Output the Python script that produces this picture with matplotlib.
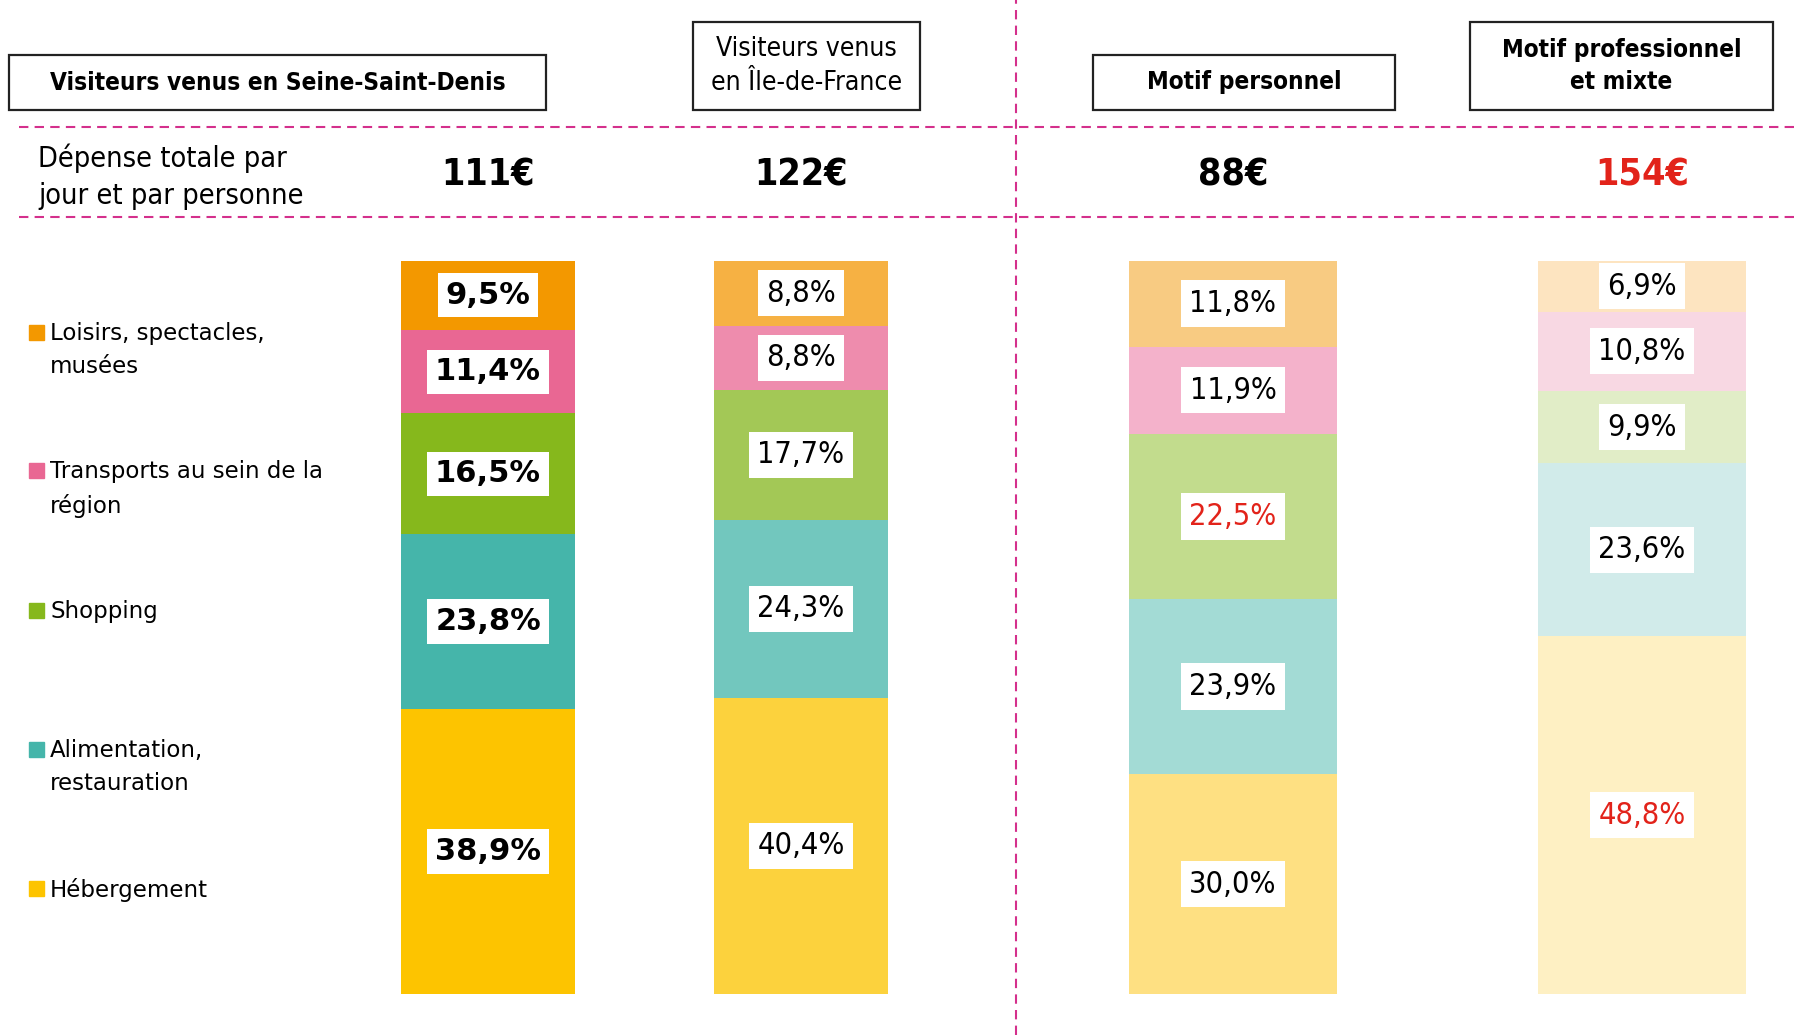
import matplotlib
matplotlib.use("Agg")
import matplotlib.pyplot as plt
from matplotlib.patches import Rectangle
from matplotlib.lines import Line2D

# données
groupes = ["Visiteurs venus en Seine-Saint-Denis", "Visiteurs venus\nen Île-de-France",
           "Motif personnel", "Motif professionnel\net mixte"]
depense = [111, 122, 88, 154]
postes = ["Hébergement", "Alimentation,\nrestauration", "Shopping",
          "Transports au sein de la\nrégion", "Loisirs, spectacles,\nmusées"]
hebergement = [38.9, 40.4, 30.0, 48.8]
alimentation = [23.8, 24.3, 23.9, 23.6]
shopping = [16.5, 17.7, 22.5, 9.9]
transports = [11.4, 8.8, 11.9, 10.8]
loisirs = [9.5, 8.8, 11.8, 6.9]
series = [hebergement, alimentation, shopping, transports, loisirs]

# couleurs par colonne (de la base vers le haut)
couleurs = [
    ["#FDC400", "#45B5AA", "#86B81C", "#E96793", "#F39800"],
    ["#FCD23D", "#72C7BE", "#A3C856", "#EE8CAD", "#F6B143"],
    ["#FEE082", "#A3DBD5", "#C2DC8D", "#F4B2CB", "#F8CB82"],
    ["#FEF0C3", "#D1EBEA", "#E1EDC7", "#F8D8E3", "#FDE4C0"],
]
ROUGE = "#E2231A"
ROSE = "#D4308C"
rouges = [(2, 2), (3, 0)]  # (colonne, poste) en rouge

COND = dict(family="DejaVu Sans", fontstretch="condensed")
W, H = 1794, 1035

def fx(px):
    return px / W

def fy(py):
    return 1 - py / H

fig = plt.figure(figsize=(W / 100, H / 100), dpi=100)

# barres
centres = [488, 801, 1233, 1642]
largeurs = [174, 174, 208, 208]
ax = fig.add_axes([0, fy(994), 1, (994 - 261) / H])
ax.set_xlim(0, W)
ax.set_ylim(0, 100)
ax.axis("off")

for i in range(len(centres)):
    bas = 0
    for j, s in enumerate(series):
        v = s[i]
        ax.bar(centres[i], v, width=largeurs[i], bottom=bas, color=couleurs[i][j],
               linewidth=0)
        txt = f"{v:.1f}".replace(".", ",") + "%"
        coul = ROUGE if (i, j) in rouges else "black"
        if i == 0:
            ax.text(centres[i], bas + v / 2, txt, ha="center", va="center",
                    fontsize=22, fontweight="bold", color=coul,
                    bbox=dict(boxstyle="square,pad=0.25", fc="white", ec="none"))
        else:
            ax.text(centres[i], bas + v / 2, txt, ha="center", va="center",
                    fontsize=22, color=coul, **COND,
                    bbox=dict(boxstyle="square,pad=0.28", fc="white", ec="none"))
        bas += v

# en-têtes encadrés
boites = [(9, 55, 546, 110), (693, 22, 920, 110), (1093, 55, 1395, 110), (1470, 22, 1773, 110)]
poids = ["bold", "normal", "bold", "bold"]
tailles = [17.5, 19, 17.5, 17.5]
for (x0, y0, x1, y1), g, p, t in zip(boites, groupes, poids, tailles):
    fig.add_artist(Rectangle((fx(x0), fy(y1)), fx(x1 - x0), (y1 - y0) / H,
                             fill=False, ec="#222222", lw=1.6, transform=fig.transFigure))
    fig.text(fx((x0 + x1) / 2), fy((y0 + y1) / 2), g, ha="center", va="center",
             fontsize=t, fontweight=p, linespacing=1.4, **COND)

# lignes pointillées
for y in [127, 217]:
    fig.add_artist(Line2D([fx(19), 1], [fy(y), fy(y)], color=ROSE, lw=1.5,
                          linestyle=(0, (4.5, 3)), transform=fig.transFigure))
fig.add_artist(Line2D([fx(1016), fx(1016)], [0, 1], color=ROSE, lw=1.5,
                      linestyle=(0, (4.5, 3)), transform=fig.transFigure))

# dépense totale
fig.text(fx(38), fy(177), "Dépense totale par\njour et par personne", ha="left",
         va="center", fontsize=20.7, linespacing=1.4, **COND)
for i, d in enumerate(depense):
    fig.text(fx(centres[i]), fy(176), f"{d}€", ha="center", va="center",
             fontsize=27, fontweight="bold", color=ROUGE if i == 3 else "black", **COND)

# légende
legende_y = [332, 470, 610, 749, 888]
for j in range(len(postes)):
    k = len(postes) - 1 - j
    y = legende_y[k]
    fig.add_artist(Rectangle((fx(29), fy(y + 8)), fx(15), 15 / H, color=couleurs[0][j],
                             transform=fig.transFigure))
    fig.text(fx(50), fy(y - 10), postes[j], ha="left", va="top", fontsize=16.5,
             linespacing=1.58)

fig.savefig("out.png", dpi=100)
